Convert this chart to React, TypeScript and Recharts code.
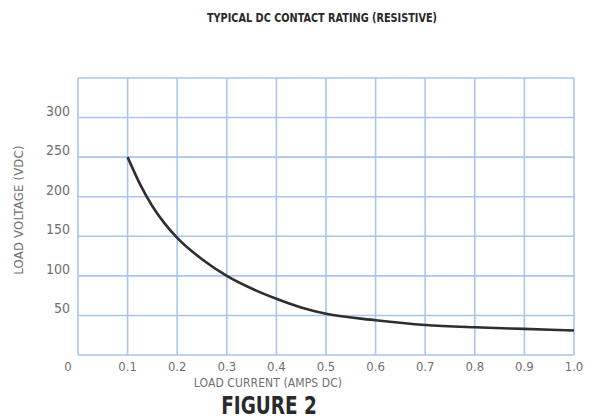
import { LineChart, Line, XAxis, YAxis, CartesianGrid } from "recharts";

// load current (A) vs max load voltage (V)
const currentAmps = [0.1, 0.125, 0.15, 0.175, 0.2, 0.25, 0.3, 0.35, 0.4, 0.45, 0.5, 0.6, 0.7, 0.8, 0.9, 1.0];
const voltageVdc = [250, 216, 188, 166, 148, 121, 100, 84, 71, 60, 52, 44, 38, 35, 33, 31];

const xTicks = [0, 0.1, 0.2, 0.3, 0.4, 0.5, 0.6, 0.7, 0.8, 0.9, 1.0];
const yTicks = [0, 50, 100, 150, 200, 250, 300, 350];
const yTickLabels = ["", "50", "100", "150", "200", "250", "300", ""];

const chartData = currentAmps.map((a, i) => ({ amps: a, volts: voltageVdc[i] }));

const tickFont = "'DejaVu Sans Condensed', 'Liberation Sans', sans-serif";
const gridBlue = "#a9c5ee";
const labelGray = "#707070";

function XTick({ x, y, payload }: any) {
  const v = payload.value;
  const label = v === 0 ? "0" : v.toFixed(1);
  return (
    <text x={v === 0 ? x - 10 : x} y={y} dy={8} textAnchor="middle" fill={labelGray} fontSize={13} fontFamily={tickFont}>
      {label}
    </text>
  );
}

function YTick({ x, y, payload }: any) {
  const label = yTickLabels[yTicks.indexOf(payload.value)];
  if (!label) return null;
  return (
    <text x={x} y={y} dy={-2} textAnchor="end" fill={labelGray} fontSize={14} fontFamily={tickFont}>
      {label}
    </text>
  );
}

export default function App() {
  return (
    <div style={{ position: "absolute", left: 0, top: 0, width: 590, height: 420, background: "#fff" }}>
      <div style={{ position: "absolute", left: 122, width: 400, top: 11, textAlign: "center", whiteSpace: "nowrap", transform: "scaleX(0.9)", fontFamily: tickFont, fontWeight: 700, fontSize: 12, color: "#2a2a2a" }}>
        TYPICAL DC CONTACT RATING (RESISTIVE)
      </div>

      <LineChart width={590} height={420} data={chartData} margin={{ top: 78, right: 16, left: 18, bottom: 35 }}>
        <CartesianGrid stroke={gridBlue} strokeWidth={1.6} />
        <XAxis
          dataKey="amps"
          type="number"
          domain={[0, 1]}
          ticks={xTicks}
          axisLine={false}
          tickLine={false}
          height={30}
          tick={<XTick />}
          interval={0}
        />
        <YAxis
          type="number"
          domain={[0, 350]}
          ticks={yTicks}
          axisLine={false}
          tickLine={false}
          width={60}
          tick={<YTick />}
          interval={0}
        />
        <Line
          type="monotone"
          dataKey="volts"
          stroke="#2e2e2e"
          strokeWidth={2.6}
          dot={false}
          isAnimationActive={false}
        />
      </LineChart>

      <div style={{ position: "absolute", left: 0, top: 210, width: 0, height: 0 }}>
        <div style={{ position: "absolute", left: 18, top: 0, transform: "translate(-50%, -50%) rotate(-90deg)", whiteSpace: "nowrap", fontFamily: tickFont, fontSize: 13, letterSpacing: 0.2, color: labelGray }}>
          LOAD VOLTAGE (VDC)
        </div>
      </div>
      <div style={{ position: "absolute", left: 168, width: 200, top: 376, textAlign: "center", whiteSpace: "nowrap", fontFamily: tickFont, fontSize: 12, letterSpacing: 0.1, color: labelGray }}>
        LOAD CURRENT (AMPS DC)
      </div>
      <div style={{ position: "absolute", left: 169, width: 200, top: 391, textAlign: "center", whiteSpace: "nowrap", transform: "scaleX(0.82)", fontFamily: tickFont, fontWeight: 700, fontSize: 25, color: "#2a2a2a" }}>
        FIGURE 2
      </div>
    </div>
  );
}
